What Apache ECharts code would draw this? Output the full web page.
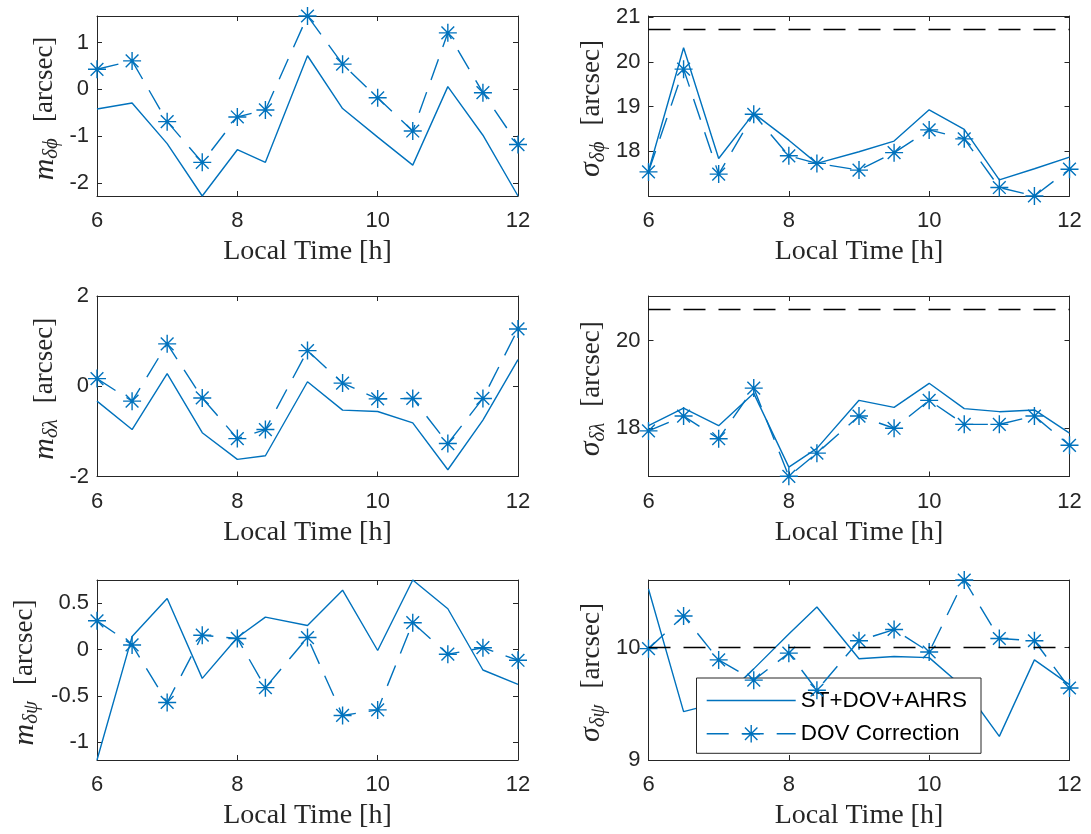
<!DOCTYPE html>
<html><head><meta charset="utf-8">
<script src="https://cdn.jsdelivr.net/npm/echarts@6/dist/echarts.min.js"></script>
<style>html,body{margin:0;padding:0;background:#fff}#c{width:1091px;height:834px}</style>
</head><body><div id="c"></div>
<script>
// ---------------- data ----------------
const hours = [6, 6.5, 7, 7.5, 8, 8.4, 9, 9.5, 10, 10.5, 11, 11.5, 12];
const seriesNames = ['ST+DOV+AHRS', 'DOV Correction'];
const xTicks = [6, 8, 10, 12];

const mPhiST  = [-0.42, -0.29, -1.16, -2.28, -1.29, -1.56, 0.72, -0.41, -1.02, -1.62, 0.06, -0.98, -2.28];
const mPhiDOV = [0.43, 0.61, -0.69, -1.56, -0.59, -0.44, 1.57, 0.54, -0.18, -0.89, 1.21, -0.07, -1.18];
const sPhiST  = [17.56, 20.32, 17.84, 18.85, 18.25, 17.73, 17.99, 18.23, 18.93, 18.49, 17.36, 17.61, 17.87];
const sPhiDOV = [17.54, 19.84, 17.49, 18.83, 17.90, 17.73, 17.58, 17.97, 18.48, 18.28, 17.19, 17.00, 17.60];
const mLamST  = [-0.33, -0.96, 0.28, -1.03, -1.62, -1.54, 0.10, -0.53, -0.56, -0.81, -1.85, -0.75, 0.59];
const mLamDOV = [0.17, -0.33, 0.94, -0.26, -1.16, -0.96, 0.79, 0.07, -0.28, -0.27, -1.27, -0.27, 1.27];
const sLamST  = [18.05, 18.45, 18.05, 18.79, 17.10, 17.53, 18.63, 18.47, 19.02, 18.44, 18.37, 18.41, 17.88];
const sLamDOV = [17.93, 18.27, 17.75, 18.91, 16.89, 17.42, 18.27, 17.99, 18.63, 18.08, 18.08, 18.27, 17.60];
const mPsiST  = [-1.19, 0.14, 0.55, -0.31, 0.13, 0.35, 0.26, 0.64, -0.01, 0.75, 0.44, -0.22, -0.375];
const mPsiDOV = [0.31, 0.05, -0.57, 0.155, 0.12, -0.41, 0.13, -0.71, -0.65, 0.29, -0.05, 0.02, -0.115];
const sPsiST  = [10.52, 9.43, 9.51, 9.81, 10.12, 10.36, 9.90, 9.92, 9.91, 9.64, 9.21, 9.89, 9.67];
const sPsiDOV = [9.99, 10.28, 9.89, 9.71, 9.95, 9.62, 10.06, 10.16, 9.96, 10.60, 10.08, 10.06, 9.64];

const sPhiLimit = 20.73;
const sLamLimit = 20.72;
const sPsiLimit = 10.0;

const yTicksMPhi = [-2, -1, 0, 1];
const yTicksSPhi = [18, 19, 20, 21];
const yTicksMLam = [-2, 0, 2];
const yTicksSLam = [18, 20];
const yTicksMPsi = [-1, -0.5, 0, 0.5];
const yTicksSPsi = [9, 10];

const yRangeMPhi = [-2.28, 1.57];
const yRangeSPhi = [17.0, 21.03];
const yRangeMLam = [-2, 2];
const yRangeSLam = [16.885, 21.02];
const yRangeMPsi = [-1.19, 0.75];
const yRangeSPsi = [9, 10.6];

// ---------------- layout / style ----------------
const BLUE = '#0072BD';
const AX = '#262626';
const SANS = 'Liberation Sans';
const SERIF = 'Liberation Serif';
const DASH = [22, 13];
const ASTERISK = 'path://M0,-10L0,10M-10,0L10,0M-7.07,-7.07L7.07,7.07M-7.07,7.07L7.07,-7.07';

const panels = [
  {st: mPhiST, dov: mPhiDOV, range: yRangeMPhi, ticks: yTicksMPhi, lim: null, sym: 'm', sub: 'δϕ'},
  {st: sPhiST, dov: sPhiDOV, range: yRangeSPhi, ticks: yTicksSPhi, lim: sPhiLimit, sym: 'σ', sub: 'δϕ'},
  {st: mLamST, dov: mLamDOV, range: yRangeMLam, ticks: yTicksMLam, lim: null, sym: 'm', sub: 'δλ'},
  {st: sLamST, dov: sLamDOV, range: yRangeSLam, ticks: yTicksSLam, lim: sLamLimit, sym: 'σ', sub: 'δλ'},
  {st: mPsiST, dov: mPsiDOV, range: yRangeMPsi, ticks: yTicksMPsi, lim: null, sym: 'm', sub: 'δψ'},
  {st: sPsiST, dov: sPsiDOV, range: yRangeSPsi, ticks: yTicksSPsi, lim: sPsiLimit, sym: 'σ', sub: 'δψ'}
];

const colLeft = [97, 648.5];
const colWidth = 421;
const rowTop = [16, 296, 580];
const rowHeight = [180, 180.5, 180];
const yNameGap = [35, 40, 35, 40, 55, 40];

const grid = [], xAxis = [], yAxis = [], series = [];
const axisLine = {show: true, onZero: false, lineStyle: {color: AX, width: 1}};
const tickStyle = {color: AX, width: 1};

panels.forEach((p, i) => {
  const r = Math.floor(i / 2), c = i % 2;
  grid.push({left: colLeft[c], top: rowTop[r], width: colWidth, height: rowHeight[r], containLabel: false});
  // bottom x axis
  xAxis.push({
    gridIndex: i, type: 'value', position: 'bottom', min: 6, max: 12, interval: 2,
    axisLine, axisTick: {inside: true, length: 5, lineStyle: tickStyle},
    axisLabel: {margin: 14, fontFamily: SANS, fontSize: 22, color: AX, lineHeight: 22},
    splitLine: {show: false},
    name: 'Local Time [h]', nameLocation: 'middle', nameGap: 42,
    nameTextStyle: {fontFamily: SERIF, fontSize: 28, color: AX, lineHeight: 28}
  });
  // top x axis (box + ticks)
  xAxis.push({
    gridIndex: i, type: 'value', position: 'top', min: 6, max: 12, interval: 2,
    axisLine, axisTick: {inside: true, length: 5, lineStyle: tickStyle},
    axisLabel: {show: false}, splitLine: {show: false}
  });
  // left y axis
  yAxis.push({
    gridIndex: i, type: 'value', position: 'left', min: p.range[0], max: p.range[1],
    axisLine, axisTick: {inside: true, length: 5, lineStyle: tickStyle, customValues: p.ticks},
    axisLabel: {customValues: p.ticks, margin: 8, fontFamily: SANS, fontSize: 22, color: AX},
    splitLine: {show: false},
    name: '{i|' + p.sym + '}{s|' + p.sub + '}{r|[arcsec]}',
    nameLocation: 'middle', nameRotate: 90, nameGap: yNameGap[i],
    nameTextStyle: {
      fontFamily: SERIF, fontSize: 27, color: AX, lineHeight: 34,
      rich: {
        i: {fontFamily: SERIF, fontStyle: 'italic', fontSize: 30, color: AX, lineHeight: 34},
        s: {fontFamily: SERIF, fontStyle: 'italic', fontSize: 21, color: AX, lineHeight: 18, verticalAlign: 'bottom'},
        r: {fontFamily: SERIF, fontSize: 27, color: AX, lineHeight: 34, padding: [0, 5, 0, 16]}
      }
    }
  });
  // right y axis
  yAxis.push({
    gridIndex: i, type: 'value', position: 'right', min: p.range[0], max: p.range[1],
    axisLine, axisTick: {inside: true, length: 5, lineStyle: tickStyle, customValues: p.ticks},
    axisLabel: {show: false}, splitLine: {show: false}
  });

  const st = {
    type: 'line', name: seriesNames[0], xAxisIndex: 2 * i, yAxisIndex: 2 * i,
    data: hours.map((h, k) => [h, p.st[k]]),
    symbol: 'none', clip: false, z: 3,
    lineStyle: {color: BLUE, width: 1.4},
    itemStyle: {color: BLUE},
    animation: false
  };
  if (p.lim !== null) {
    st.markLine = {
      silent: true, symbol: ['none', 'none'], label: {show: false}, animation: false,
      lineStyle: {color: '#000', width: 1.4, type: DASH},
      emphasis: {disabled: true},
      data: [{yAxis: p.lim}]
    };
  }
  series.push(st);
  series.push({
    type: 'line', name: seriesNames[1], xAxisIndex: 2 * i, yAxisIndex: 2 * i,
    data: hours.map((h, k) => [h, p.dov[k]]),
    symbol: ASTERISK, symbolSize: 18, showSymbol: true, showAllSymbol: true, clip: false, z: 4,
    lineStyle: {color: BLUE, width: 1.4, type: DASH},
    itemStyle: {color: BLUE, borderColor: BLUE, borderWidth: 1.4},
    animation: false
  });
});

const chart = echarts.init(document.getElementById('c'), null, {renderer: 'canvas'});
chart.setOption({
  animation: false,
  backgroundColor: '#fff',
  grid, xAxis, yAxis, series,
  legend: {
    orient: 'vertical', left: 696.5, top: 678,
    padding: [11, 14, 8, 9.5],
    itemWidth: 89, itemHeight: 22, itemGap: 10.3,
    backgroundColor: '#fff', borderColor: AX, borderWidth: 1, borderRadius: 0,
    selectedMode: false,
    textStyle: {fontFamily: SANS, fontSize: 22.5, color: '#000', lineHeight: 22},
    data: [
      {name: seriesNames[0], icon: 'path://M0,0L100,0L100,1.7L0,1.7Z', itemStyle: {color: BLUE, borderWidth: 0}},
      {name: seriesNames[1], lineStyle: {color: BLUE, width: 1.4, type: DASH}, itemStyle: {color: BLUE, borderColor: BLUE, borderWidth: 1.4}}
    ]
  }
});
</script>
</body></html>
